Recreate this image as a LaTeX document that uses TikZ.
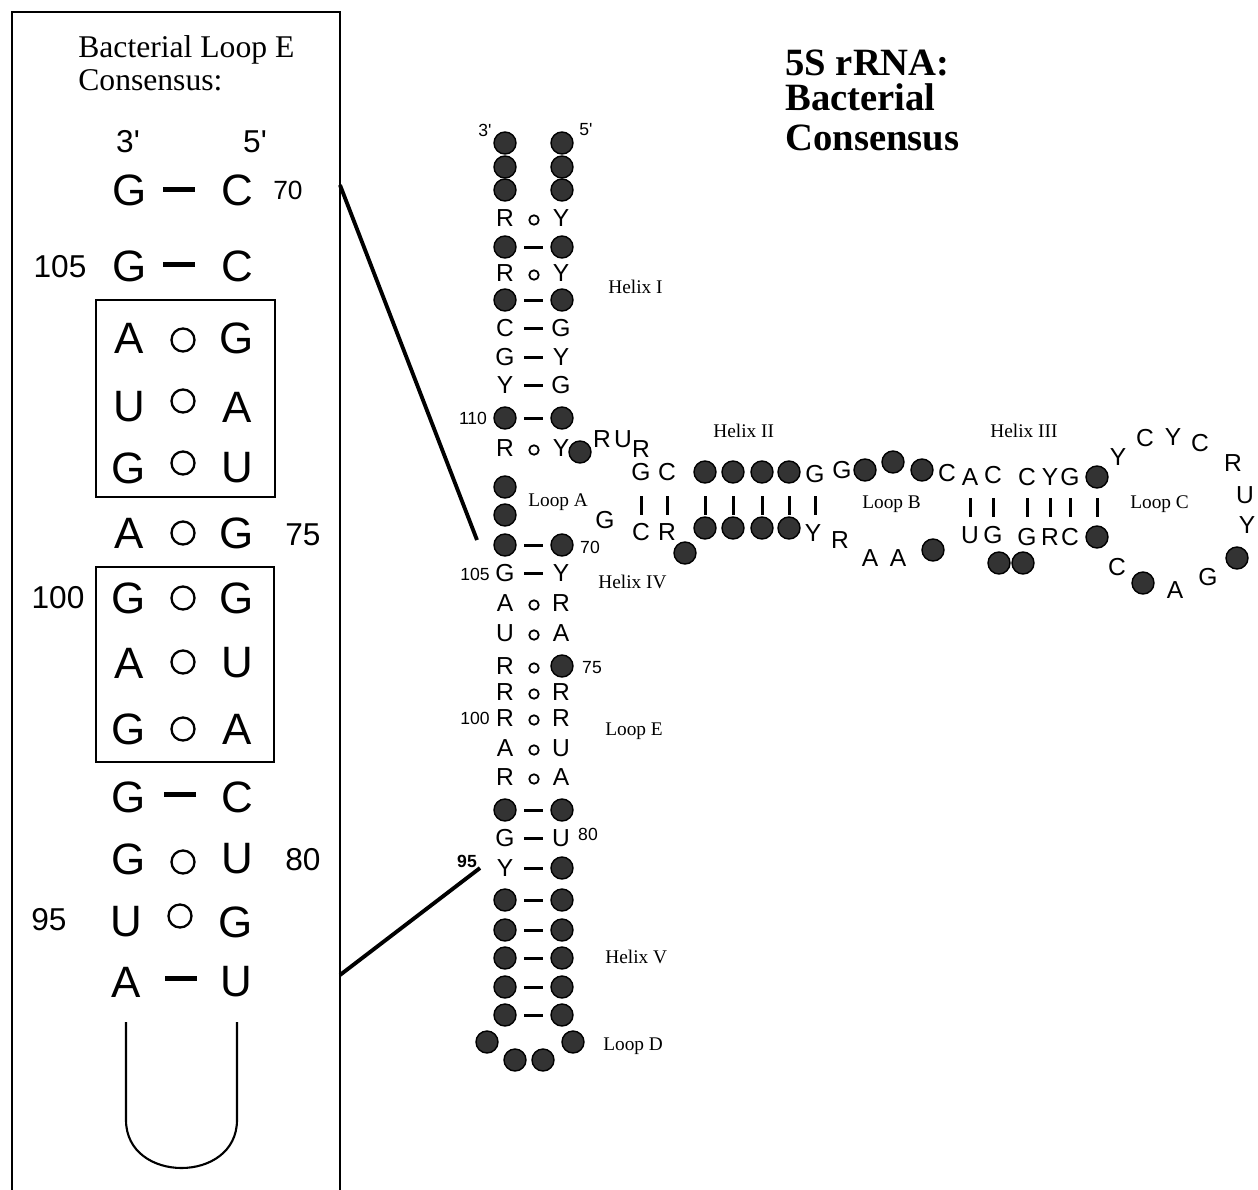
\documentclass[tikz,border=0pt]{standalone}
\usepackage{fontspec}
\setmainfont{Liberation Serif}
\setsansfont{Liberation Sans}
\usepackage{tikz}
\usetikzlibrary{positioning}

\tikzset{
  nt/.style={font=\sffamily\fontsize{14}{14}\selectfont,inner sep=0pt},
  ntbig/.style={font=\sffamily\fontsize{25}{25}\selectfont,inner sep=0pt},
  ntdot/.style={circle,draw=black,fill=cdot,line width=0.8pt,minimum size=0.44cm,inner sep=0pt},
  wcring/.style={circle,draw=black,line width=1pt,minimum size=0.19cm,inner sep=0pt},
  wcringbig/.style={circle,draw=black,line width=1.3pt,minimum size=0.46cm,inner sep=0pt},
  wcdash/.style={fill=black,minimum width=0.38cm,minimum height=0.06cm,inner sep=0pt},
  wcdashbig/.style={fill=black,minimum width=0.64cm,minimum height=0.1cm,inner sep=0pt},
  wcbar/.style={fill=black,minimum width=0.06cm,minimum height=0.38cm,inner sep=0pt},
  ntnum/.style={font=\sffamily\fontsize{10}{10}\selectfont,inner sep=0pt},
  ntnumbig/.style={font=\sffamily\fontsize{18}{18}\selectfont,inner sep=0pt},
  looplabel/.style={font=\fontsize{11}{11}\selectfont,anchor=base west,inner sep=0pt},
  boxline/.style={line width=1.7pt},
  zoomline/.style={line width=2.2pt},
}

\begin{document}
\begin{tikzpicture}[x=0.02cm,y=-0.02cm]
%
\useasboundingbox (0,0) rectangle (1258,1190);
%
\definecolor{cdot}{rgb}{0.2,0.2,0.2}
%
% consensus box
\draw[boxline] (12,1190) -- (12,12) -- (340,12) -- (340,1190);
\node[anchor=base west,font=\fontsize{18}{18}\selectfont,inner sep=0pt] (boxtitle1) at (78,57) {Bacterial Loop E};
\node[anchor=base west,font=\fontsize{18}{18}\selectfont,inner sep=0pt] (boxtitle2) at (78,90) {Consensus:};
\node[font=\sffamily\fontsize{18}{18}\selectfont,inner sep=0pt] (bend3) at (128,142) {3\textquotesingle};
\node[font=\sffamily\fontsize{18}{18}\selectfont,inner sep=0pt] (bend5) at (255,142) {5\textquotesingle};
%
\node[ntbig] (bl1) at (130,190) {G}; \node[wcdashbig] (bm1) at (179,189) {}; \node[ntbig] (br1) at (237,190) {C};
\node[font=\sffamily\fontsize{15}{15}\selectfont,inner sep=0pt] (bn70) at (288,190) {70};
\node[ntbig] (bl2) at (130,266) {G}; \node[wcdashbig] (bm2) at (179,264) {}; \node[ntbig] (br2) at (237,266) {C};
\node[ntnumbig] (bn105) at (60,267) {105};
\node[ntbig] (bl3) at (129,338) {A}; \node[wcringbig] (bm3) at (183,340) {}; \node[ntbig] (br3) at (237,338) {G};
\node[ntbig] (bl4) at (129,407) {U}; \node[wcringbig] (bm4) at (183,401) {}; \node[ntbig] (br4) at (237,407) {A};
\node[ntbig] (bl5) at (129,468) {G}; \node[wcringbig] (bm5) at (183,463) {}; \node[ntbig] (br5) at (237,468) {U};
\node[ntbig] (bl6) at (129,533) {A}; \node[wcringbig] (bm6) at (183,533) {}; \node[ntbig] (br6) at (237,533) {G};
\node[ntnumbig] (bn75) at (303,535) {75};
\node[ntbig] (bl7) at (129,598) {G}; \node[wcringbig] (bm7) at (183,598) {}; \node[ntbig] (br7) at (237,598) {G};
\node[ntnumbig] (bn100) at (58,598) {100};
\node[ntbig] (bl8) at (129,663) {A}; \node[wcringbig] (bm8) at (183,662) {}; \node[ntbig] (br8) at (237,663) {U};
\node[ntbig] (bl9) at (129,729) {G}; \node[wcringbig] (bm9) at (183,729) {}; \node[ntbig] (br9) at (237,729) {A};
\node[ntbig] (bl10) at (129,797) {G}; \node[wcdashbig] (bm10) at (180,794) {}; \node[ntbig] (br10) at (237,797) {C};
\node[ntbig] (bl11) at (129,859) {G}; \node[wcringbig] (bm11) at (183,862) {}; \node[ntbig] (br11) at (237,859) {U};
\node[ntnumbig] (bn80) at (303,860) {80};
\node[ntbig] (bl12) at (126,922) {U}; \node[wcringbig] (bm12) at (180,916) {}; \node[ntbig] (br12) at (236,922) {G};
\node[ntnumbig] (bn95) at (49,920) {95};
\node[ntbig] (bl13) at (126,982) {A}; \node[wcdashbig] (bm13) at (181,978) {}; \node[ntbig] (br13) at (236,982) {U};
%
\draw[line width=1.4pt] (96,300) rectangle (275,497);
\draw[line width=1.4pt] (96,567) rectangle (274,762);
\coordinate (uL) at (126,1022);
\coordinate (uR) at (237,1022);
\draw[line width=1.2pt] (uL) -- (126,1120) .. controls (126,1184) and (237,1184) .. (237,1120) -- (uR);
%
% zoom lines
\coordinate (zoomA) at (340,185);
\coordinate (stemA) at (477,540);
\coordinate (zoomB) at (340,975);
\coordinate (stemB) at (480,868);
\draw[zoomline] (zoomA) -- (stemA);
\draw[zoomline] (zoomB) -- (stemB);
%
% title
\node[anchor=base west,font=\bfseries\fontsize{22}{22}\selectfont,inner sep=0pt] (title1) at (785,75) {5S rRNA:};
\node[anchor=base west,font=\bfseries\fontsize{22}{22}\selectfont,inner sep=0pt] (title2) at (785,110) {Bacterial};
\node[anchor=base west,font=\bfseries\fontsize{22}{22}\selectfont,inner sep=0pt] (title3) at (785,150) {Consensus};
%
% helix I
\node[ntnum] (e3) at (485,130) {3\textquotesingle};
\node[ntnum] (e5) at (586,130) {5\textquotesingle};
\node[ntdot] (l1) at (505,143) {}; \node[ntdot] (r1) at (562,143) {};
\node[ntdot] (l2) at (505,167) {}; \node[ntdot] (r2) at (562,167) {};
\node[ntdot] (l3) at (505,190) {}; \node[ntdot] (r3) at (562,190) {};
\node[nt] (l4) at (505,218) {R}; \node[wcring] (m4) at (534,220) {}; \node[nt] (r4) at (561,218) {Y};
\node[ntdot] (l5) at (505,247) {}; \node[wcdash] (m5) at (533,247) {}; \node[ntdot] (r5) at (562,247) {};
\node[nt] (l6) at (505,273) {R}; \node[wcring] (m6) at (534,275) {}; \node[nt] (r6) at (561,273) {Y};
\node[ntdot] (l7) at (505,300) {}; \node[wcdash] (m7) at (533,300) {}; \node[ntdot] (r7) at (562,300) {};
\node[nt] (l8) at (505,328) {C}; \node[wcdash] (m8) at (533,328) {}; \node[nt] (r8) at (561,328) {G};
\node[nt] (l9) at (505,357) {G}; \node[wcdash] (m9) at (533,357) {}; \node[nt] (r9) at (561,357) {Y};
\node[nt] (l10) at (505,385) {Y}; \node[wcdash] (m10) at (533,385) {}; \node[nt] (r10) at (561,385) {G};
\node[ntdot] (l11) at (505,418) {}; \node[wcdash] (m11) at (533,418) {}; \node[ntdot] (r11) at (562,418) {};
\node[ntnum] (n110) at (473,418) {110};
\node[nt] (l12) at (505,448) {R}; \node[wcring] (m12) at (534,450) {}; \node[nt] (r12) at (561,448) {Y};
%
% loop A
\node[ntdot] (l13) at (505,487) {};
\node[ntdot] (l14) at (505,515) {};
\node[ntdot] (a1) at (580,452) {};
\node[nt] (a2) at (602,439) {R};
\node[nt] (a3) at (623,439) {U};
\node[nt] (a4) at (641,449) {R};
\node[nt] (a5) at (605,520) {G};
%
% helix IV and loop E
\node[ntdot] (l15) at (505,545) {}; \node[wcdash] (m15) at (533,545) {}; \node[ntdot] (r15) at (562,545) {};
\node[ntnum] (n70) at (590,547) {70};
\node[nt] (l16) at (505,573) {G}; \node[wcdash] (m16) at (533,573) {}; \node[nt] (r16) at (561,573) {Y};
\node[ntnum] (n105) at (475,574) {105};
\node[nt] (l17) at (505,603) {A}; \node[wcring] (m17) at (534,605) {}; \node[nt] (r17) at (561,603) {R};
\node[nt] (l18) at (505,633) {U}; \node[wcring] (m18) at (534,635) {}; \node[nt] (r18) at (561,633) {A};
\node[nt] (l19) at (505,666) {R}; \node[wcring] (m19) at (534,668) {}; \node[ntdot] (r19) at (562,666) {};
\node[ntnum] (n75) at (592,668) {75};
\node[nt] (l20) at (505,692) {R}; \node[wcring] (m20) at (534,694) {}; \node[nt] (r20) at (561,692) {R};
\node[nt] (l21) at (505,718) {R}; \node[wcring] (m21) at (534,720) {}; \node[nt] (r21) at (561,718) {R};
\node[ntnum] (n100) at (475,718) {100};
\node[nt] (l22) at (505,748) {A}; \node[wcring] (m22) at (534,750) {}; \node[nt] (r22) at (561,748) {U};
\node[nt] (l23) at (505,777) {R}; \node[wcring] (m23) at (534,779) {}; \node[nt] (r23) at (561,777) {A};
\node[ntdot] (l24) at (505,810) {}; \node[wcdash] (m24) at (533,810) {}; \node[ntdot] (r24) at (562,810) {};
\node[nt] (l25) at (505,838) {G}; \node[wcdash] (m25) at (533,838) {}; \node[nt] (r25) at (561,838) {U};
\node[ntnum] (n80) at (588,834) {80};
%
% helix V and loop D
\node[nt] (l26) at (505,868) {Y}; \node[wcdash] (m26) at (533,868) {}; \node[ntdot] (r26) at (562,868) {};
\node[ntnum,font=\sffamily\bfseries\fontsize{10}{10}\selectfont] (n95) at (467,861) {95};
\node[ntdot] (l27) at (505,900) {}; \node[wcdash] (m27) at (533,900) {}; \node[ntdot] (r27) at (562,900) {};
\node[ntdot] (l28) at (505,930) {}; \node[wcdash] (m28) at (533,930) {}; \node[ntdot] (r28) at (562,930) {};
\node[ntdot] (l29) at (505,958) {}; \node[wcdash] (m29) at (533,958) {}; \node[ntdot] (r29) at (562,958) {};
\node[ntdot] (l30) at (505,987) {}; \node[wcdash] (m30) at (533,987) {}; \node[ntdot] (r30) at (562,987) {};
\node[ntdot] (l31) at (505,1015) {}; \node[wcdash] (m31) at (533,1015) {}; \node[ntdot] (r31) at (562,1015) {};
\node[ntdot] (d1) at (487,1042) {};
\node[ntdot] (d2) at (515,1060) {};
\node[ntdot] (d3) at (543,1060) {};
\node[ntdot] (d4) at (573,1042) {};
%
% helix II
\node[nt] (t1) at (641,472) {G}; \node[wcbar] (h1) at (641,505) {}; \node[nt] (u1) at (641,532) {C};
\node[nt] (t2) at (667,472) {C}; \node[wcbar] (h2) at (667,505) {}; \node[nt] (u2) at (667,532) {R};
\node[ntdot] (t3) at (705,472) {}; \node[wcbar] (h3) at (705,505) {}; \node[ntdot] (u3) at (705,528) {};
\node[ntdot] (t4) at (733,472) {}; \node[wcbar] (h4) at (733,505) {}; \node[ntdot] (u4) at (733,528) {};
\node[ntdot] (t5) at (762,472) {}; \node[wcbar] (h5) at (762,505) {}; \node[ntdot] (u5) at (762,528) {};
\node[ntdot] (t6) at (789,472) {}; \node[wcbar] (h6) at (789,505) {}; \node[ntdot] (u6) at (789,528) {};
\node[nt] (t7) at (815,474) {G}; \node[wcbar] (h7) at (815,505) {}; \node[nt] (u7) at (813,533) {Y};
\node[ntdot] (u0) at (685,553) {};
%
% loop B
\node[nt] (t8) at (842,470) {G};
\node[ntdot] (t9) at (865,470) {};
\node[ntdot] (t10) at (893,462) {};
\node[ntdot] (t11) at (922,470) {};
\node[nt] (t12) at (947,473) {C};
\node[nt] (u8) at (840,540) {R};
\node[nt] (u9) at (870,558) {A};
\node[nt] (u10) at (898,558) {A};
\node[ntdot] (u11) at (933,550) {};
%
% helix III
\node[nt] (t13) at (970,477) {A}; \node[wcbar] (h13) at (970,507) {}; \node[nt] (u13) at (970,535) {U};
\node[nt] (t14) at (993,475) {C}; \node[wcbar] (h14) at (993,507) {}; \node[nt] (u14) at (993,535) {G};
\node[nt] (t15) at (1027,477) {C}; \node[wcbar] (h15) at (1027,507) {}; \node[nt] (u15) at (1027,537) {G};
\node[nt] (t16) at (1050,477) {Y}; \node[wcbar] (h16) at (1050,507) {}; \node[nt] (u16) at (1050,537) {R};
\node[nt] (t17) at (1070,477) {G}; \node[wcbar] (h17) at (1070,507) {}; \node[nt] (u17) at (1070,537) {C};
\node[ntdot] (t18) at (1097,477) {}; \node[wcbar] (h18) at (1097,507) {}; \node[ntdot] (u18) at (1097,537) {};
\node[ntdot] (u19) at (999,563) {};
\node[ntdot] (u20) at (1023,563) {};
%
% loop C
\node[nt] (c1) at (1118,457) {Y};
\node[nt] (c2) at (1145,438) {C};
\node[nt] (c3) at (1173,437) {Y};
\node[nt] (c4) at (1200,443) {C};
\node[nt] (c5) at (1233,463) {R};
\node[nt] (c6) at (1245,495) {U};
\node[nt] (c7) at (1247,525) {Y};
\node[ntdot] (c8) at (1237,558) {};
\node[nt] (c9) at (1208,577) {G};
\node[nt] (c10) at (1175,590) {A};
\node[ntdot] (c11) at (1143,583) {};
\node[nt] (c12) at (1117,567) {C};
%
% domain labels
\node[looplabel] (helixI) at (608,293) {Helix I};
\node[looplabel] (loopA) at (528,506) {Loop A};
\node[looplabel] (helixIV) at (598,588) {Helix IV};
\node[looplabel] (loopE) at (605,735) {Loop E};
\node[looplabel] (helixV) at (605,963) {Helix V};
\node[looplabel] (loopD) at (603,1050) {Loop D};
\node[looplabel] (helixII) at (713,437) {Helix II};
\node[looplabel] (loopB) at (862,508) {Loop B};
\node[looplabel] (helixIII) at (990,437) {Helix III};
\node[looplabel] (loopC) at (1130,508) {Loop C};
%
\end{tikzpicture}
\end{document}
